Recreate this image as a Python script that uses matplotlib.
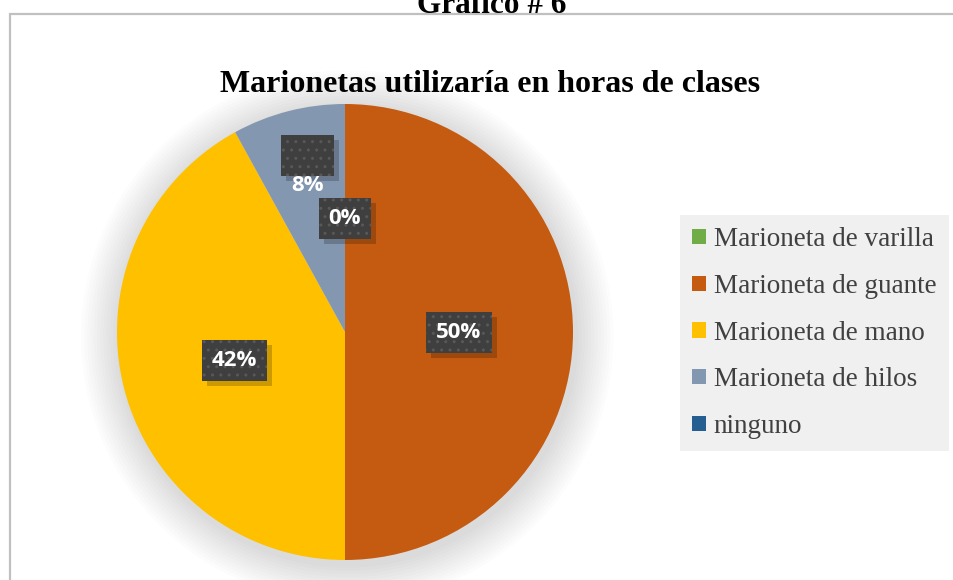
import numpy as np
import matplotlib
matplotlib.use("Agg")
import matplotlib.pyplot as plt
from matplotlib.patches import Rectangle, Circle
from matplotlib.transforms import offset_copy

# datos del gráfico
categorias = ["Marioneta de varilla", "Marioneta de guante", "Marioneta de mano",
              "Marioneta de hilos", "ninguno"]
porcentajes = [0, 50, 42, 8, 0]
colores = ["#70ad47", "#c55a11", "#ffc000", "#8497b0", "#255e91"]
etiquetas = ["0%", "50%", "42%", "8%", "0%"]

titulo_doc = "Grafico # 6"
titulo = "Marionetas utilizaría en horas de clases"

W, H = 954, 580
fig = plt.figure(figsize=(W / 100, H / 100), dpi=100)

# marco del gráfico (recortado a la derecha y abajo)
fig.patches.append(Rectangle((10 / W, -0.05), 1.1, 1 - 14 / H + 0.05,
                             transform=fig.transFigure, fill=False,
                             edgecolor="#c0c0c0", linewidth=1.6))

fig.text(492 / W, 1 - 13 / H, titulo_doc, ha="center", va="baseline",
         family="Liberation Serif", fontweight="bold", fontsize=22.5)
fig.text(490 / W, 1 - 84 / H, titulo, ha="center", va="center",
         family="Liberation Serif", fontweight="bold", fontsize=23)

# ejes del pastel: centro (345, 332), radio 228 px
R = 228
half = 1.25
ax = fig.add_axes([(345 - half * R) / W, (H - 332 - half * R) / H,
                   2 * half * R / W, 2 * half * R / H])
ax.set_xlim(-half, half)
ax.set_ylim(-half, half)
ax.set_aspect("equal")
ax.axis("off")

# sombra difusa alrededor del pastel
for k in range(12, 0, -1):
    ax.add_patch(Circle((0.01, -0.02), 1 + 0.014 * k, facecolor="#000000",
                        edgecolor="none", alpha=0.013, zorder=0))

wedges, _ = ax.pie(porcentajes, colors=colores, startangle=90,
                   counterclock=False, radius=1.0,
                   wedgeprops=dict(linewidth=0), labels=None)
for w in wedges:
    w.set_zorder(2)

caja = dict(boxstyle="square,pad=0.45", facecolor="#3f3f3f",
            edgecolor="#585858", linewidth=0, hatch="..")
sombra = dict(boxstyle="square,pad=0.45", facecolor="#000000",
              edgecolor="none", alpha=0.2)
fuente = dict(family=["Open Sans", "DejaVu Sans"], fontweight="bold",
              fontsize=16, color="white", ha="center", va="center")

sombra_tr = offset_copy(ax.transData, fig=fig, x=5, y=-5, units="dots")


def etiqueta(x, y, txt, texto_visible=True):
    ax.text(x, y, txt, transform=sombra_tr, bbox=sombra, zorder=4,
            **{**fuente, "color": "none"})
    ax.text(x, y, txt, bbox=caja, zorder=5,
            **{**fuente, "color": "white" if texto_visible else "none"})


for i, (w, txt) in enumerate(zip(wedges, etiquetas)):
    ang = np.deg2rad((w.theta1 + w.theta2) / 2)
    x, y = 0.5 * np.cos(ang), 0.5 * np.sin(ang)
    if categorias[i] == "Marioneta de hilos":
        # etiqueta desplazada a mano en el original
        etiqueta(x - 0.04, y + 0.29, txt, texto_visible=False)
        ax.text(x - 0.04, y + 0.16, txt, zorder=6, **fuente)
    elif categorias[i] == "ninguno":
        continue
    else:
        etiqueta(x, y, txt)

fig.legend(wedges, categorias, loc="upper left",
           bbox_to_anchor=(680 / W, 1 - 215 / H),
           prop=dict(family="Liberation Serif", size=19.5),
           labelcolor="#404040", frameon=True, facecolor="#f0f0f0",
           edgecolor="none", fancybox=False, framealpha=1,
           handlelength=0.5, handleheight=0.5, handletextpad=0.3,
           labelspacing=0.8, borderpad=0.45, borderaxespad=0)

fig.savefig("out.png", dpi=100)
